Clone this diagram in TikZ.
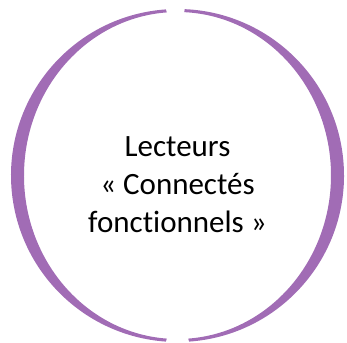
\documentclass[tikz,border=0pt]{standalone}
\usepackage{fontspec}
\setmainfont{Carlito}[Ligatures=NoCommon]
\usetikzlibrary{calc}

\definecolor{lilas}{RGB}{161,108,181}
\tikzset{
  crescent/.style={fill=lilas, draw=none},
  lecteur/.style={align=center, font=\fontsize{31}{38}\selectfont, text=black}
}

\begin{document}
\begin{tikzpicture}[x=1pt, y=1pt]
        \useasboundingbox (0,0) rectangle (347,342);
        \coordinate (c) at (177.5,166.5);

        % left half
        \fill[crescent] (c) ++(94:166.5) arc[start angle=94, end angle=266, radius=166.5]
            -- ($(c)+(266:153.5 and 163.5)$)
            arc[start angle=266, end angle=94, x radius=153.5, y radius=163.5] -- cycle;
        % right half
        \fill[crescent] (c) ++(-86:166.5) arc[start angle=-86, end angle=87.5, radius=166.5]
            -- ($(c)+(87.5:153.5 and 163.5)$)
            arc[start angle=87.5, end angle=-86, x radius=153.5, y radius=163.5] -- cycle;

        \node[lecteur] (texte) at (177.5,157) {Lecteurs\\« Connectés\\fonctionnels »};
\end{tikzpicture}
\end{document}
